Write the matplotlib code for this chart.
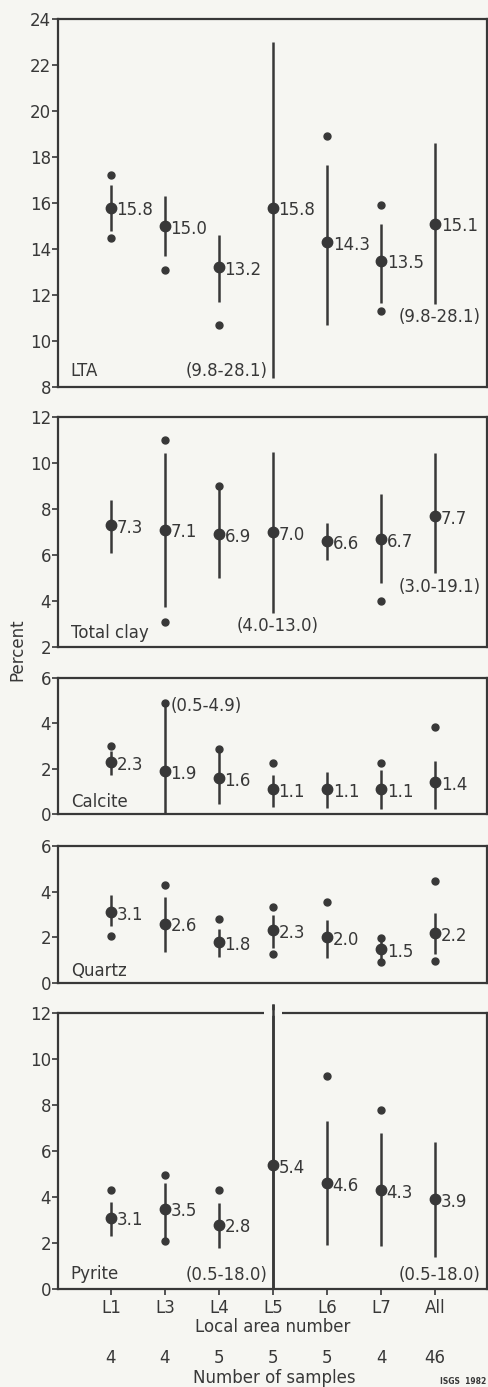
import numpy as np
import matplotlib.pyplot as plt
import matplotlib.transforms as mtransforms

# -------------------------
# Data
# -------------------------
areas = ['L1', 'L3', 'L4', 'L5', 'L6', 'L7', 'All']
n_samples = ['4', '4', '5', '5', '5', '4', '46']
nan = np.nan

lta_mean = [15.8, 15.0, 13.2, 15.8, 14.3, 13.5, 15.1]
lta_hi = [16.8, 16.3, 14.6, 23.0, 17.65, 15.1, 18.6]
lta_lo = [14.8, 13.7, 11.7, 8.4, 10.7, 11.65, 11.6]
lta_dot_hi = [17.2, nan, nan, nan, 18.9, 15.9, nan]
lta_dot_lo = [14.5, 13.1, 10.7, nan, nan, 11.3, nan]

clay_mean = [7.3, 7.1, 6.9, 7.0, 6.6, 6.7, 7.7]
clay_hi = [8.4, 10.45, 9.0, 10.5, 7.4, 8.65, 10.45]
clay_lo = [6.1, 3.75, 5.0, 3.5, 5.8, 4.8, 5.2]
clay_dot_hi = [nan, 11.0, 9.0, nan, nan, nan, nan]
clay_dot_lo = [nan, 3.1, nan, nan, nan, 4.0, nan]

calc_mean = [2.3, 1.9, 1.6, 1.1, 1.1, 1.1, 1.4]
calc_hi = [2.8, 4.9, 2.85, 1.7, 1.85, 1.95, 2.35]
calc_lo = [1.7, 0.0, 0.45, 0.3, 0.25, 0.2, 0.2]
calc_dot_hi = [3.0, 4.9, 2.85, 2.25, nan, 2.25, 3.85]
calc_dot_lo = [nan] * 7

qtz_mean = [3.1, 2.6, 1.8, 2.3, 2.0, 1.5, 2.2]
qtz_hi = [3.85, 3.75, 2.35, 3.0, 2.75, 1.95, 3.05]
qtz_lo = [2.5, 1.35, 1.15, 1.55, 1.1, 0.9, 1.25]
qtz_dot_hi = [nan, 4.3, 2.8, 3.35, 3.55, 1.95, 4.45]
qtz_dot_lo = [2.05, nan, nan, 1.25, nan, 0.9, 0.95]

pyr_mean = [3.1, 3.5, 2.8, 5.4, 4.6, 4.3, 3.9]
pyr_hi = [3.8, 4.6, 3.75, 12.4, 7.3, 6.8, 6.4]
pyr_lo = [2.3, 2.05, 1.8, 0.0, 1.9, 1.85, 1.4]
pyr_dot_hi = [4.3, 4.95, 4.3, nan, 9.25, 7.8, nan]
pyr_dot_lo = [nan, 2.1, nan, nan, nan, nan, nan]

# range notes: (area index, y value, text, alignment)
lta_notes = [(3, 8.7, '(9.8-28.1)', 'right'), (6, 11.05, '(9.8-28.1)', 'center')]
clay_notes = [(3, 2.9, '(4.0-13.0)', 'center'), (6, 4.6, '(3.0-19.1)', 'center')]
calc_notes = [(1, 4.75, '(0.5-4.9)', 'left')]
qtz_notes = []
pyr_notes = [(3, 0.6, '(0.5-18.0)', 'right'), (6, 0.6, '(0.5-18.0)', 'center')]

ink = '#383838'
bg = '#f6f6f2'
plt.rcParams['font.family'] = 'DejaVu Sans'
plt.rcParams['text.color'] = ink

W, H = 488, 1387
fig = plt.figure(figsize=(W / 100, H / 100), dpi=100, facecolor=bg)


def px_axes(top, bottom, left=58, right=487):
    return fig.add_axes([left / W, 1 - bottom / H, (right - left) / W, (bottom - top) / H])


panels = [
    ('LTA', (19, 387), (8, 24), np.arange(8, 25, 2),
     lta_mean, lta_hi, lta_lo, lta_dot_hi, lta_dot_lo, lta_notes),
    ('Total clay', (417, 647), (2, 12), np.arange(2, 13, 2),
     clay_mean, clay_hi, clay_lo, clay_dot_hi, clay_dot_lo, clay_notes),
    ('Calcite', (678, 814), (0, 6), np.arange(0, 7, 2),
     calc_mean, calc_hi, calc_lo, calc_dot_hi, calc_dot_lo, calc_notes),
    ('Quartz', (846, 983), (0, 6), np.arange(0, 7, 2),
     qtz_mean, qtz_hi, qtz_lo, qtz_dot_hi, qtz_dot_lo, qtz_notes),
    ('Pyrite', (1013, 1289), (0, 12), np.arange(0, 13, 2),
     pyr_mean, pyr_hi, pyr_lo, pyr_dot_hi, pyr_dot_lo, pyr_notes),
]

x = np.arange(len(areas))
axes = []
for name, (top, bot), ylim, yticks, mean, hi, lo, dhi, dlo, notes in panels:
    ax = px_axes(top, bot)
    ax.set_facecolor(bg)
    ax.set_xlim(-0.98, 6.96)
    ax.set_ylim(*ylim)
    ax.set_yticks(yticks)
    ax.set_yticklabels([str(t) for t in yticks], fontsize=12, color=ink)
    ax.tick_params(axis='y', direction='out', length=4, width=1.2, color=ink, pad=1)
    ax.set_xticks([])
    for s in ax.spines.values():
        s.set_color(ink)
        s.set_linewidth(1.6)

    ax.vlines(x, lo, hi, color=ink, lw=1.8, clip_on=False, zorder=2)
    ax.plot(x, dhi, 'o', color=ink, ms=5, zorder=3)
    ax.plot(x, dlo, 'o', color=ink, ms=5, zorder=3)
    ax.plot(x, mean, 'o', color=ink, ms=7.5, zorder=4)
    for xi, m in zip(x, mean):
        ax.annotate(f'{m:.1f}', (xi, m), xytext=(4, -2), textcoords='offset points',
                    ha='left', va='center', fontsize=12, color=ink)
    for i, yv, txt, ha in notes:
        dx = {'right': -4, 'left': 4, 'center': 3}[ha]
        ax.annotate(txt, (x[i], yv), xytext=(dx, 0), textcoords='offset points',
                    ha=ha, va='center', fontsize=12, color=ink)
    ax.text(0.03, 0.02, name, transform=ax.transAxes, ha='left', va='bottom',
            fontsize=12, color=ink)
    axes.append(ax)

# break in the pyrite panel top border where the L5 line passes through
ax_p = axes[-1]
trans = mtransforms.blended_transform_factory(ax_p.transData, ax_p.transAxes)
ax_p.plot([x[3] - 0.16, x[3] + 0.16], [1, 1], color=bg, lw=4, transform=trans,
          clip_on=False, zorder=3.2, solid_capstyle='butt')
ax_p.vlines(x[3], pyr_lo[3], pyr_hi[3], color=ink, lw=1.8, clip_on=False, zorder=3.5)

# bottom axis labels
ax_p.set_xticks(x)
ax_p.set_xticklabels(areas, fontsize=12, color=ink)
ax_p.tick_params(axis='x', direction='out', length=4, width=1.2, color=ink, pad=3)
ax_p.set_xlabel('Local area number', fontsize=12, color=ink, labelpad=1)
for xi, n in zip(x, n_samples):
    ax_p.annotate(n, (xi, 0), xycoords=('data', 'figure pixels'),
                  xytext=(0, (H - 1358)), textcoords='offset pixels',
                  ha='center', va='center', fontsize=12, color=ink)
fig.text(274 / W, 1 - 1378 / H, 'Number of samples', ha='center', va='center',
         fontsize=12, color=ink)
fig.text(486 / W, 1 - 1382 / H, 'ISGS  1982', ha='right', va='center',
         fontsize=5.5, color=ink, fontweight='bold')
fig.text(17 / W, 1 - 650 / H, 'Percent', rotation=90, ha='center', va='center',
         fontsize=12, color=ink)

fig.savefig('out.png', dpi=100, facecolor=bg)
